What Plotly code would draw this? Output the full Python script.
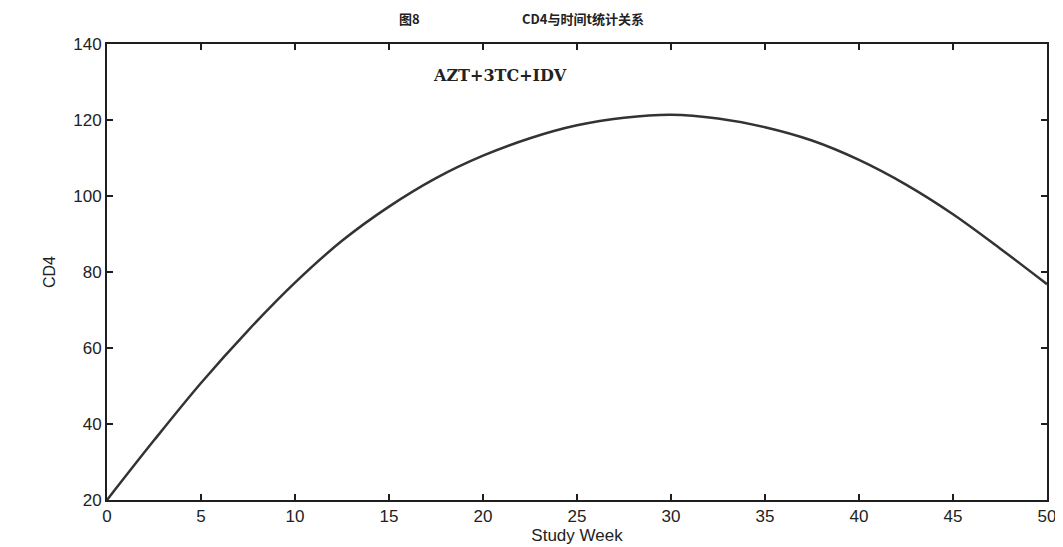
import plotly.graph_objects as go

weeks = [0, 2.5, 5, 7.5, 10, 12.5, 15, 17.5, 20, 22.5, 25, 27.5, 30, 32.5, 35, 37.5, 40, 42.5, 45, 47.5, 50]
cd4 = [20, 35.7, 50.8, 64.6, 77.2, 88.2, 97.2, 104.7, 110.6, 115.2, 118.6, 120.6, 121.4, 120.4, 118.1, 114.6, 109.5, 103.0, 95.2, 86.2, 76.8]

x_ticks = [0, 5, 10, 15, 20, 25, 30, 35, 40, 45, 50]
y_ticks = [20, 40, 60, 80, 100, 120, 140]

figure_no = "图8"
title_text = "CD4与时间t统计关系"
label_text = "AZT+3TC+IDV"

fig = go.Figure()
fig.add_trace(go.Scatter(
    x=weeks, y=cd4, mode="lines",
    line=dict(color="#333333", width=2.5, shape="spline", smoothing=1.0),
    showlegend=False, hoverinfo="skip",
))

axis_common = dict(
    showgrid=False, zeroline=False, showline=True, linecolor="#1e1e1e", linewidth=2,
    ticks="inside", ticklen=6, tickwidth=1.5, tickcolor="#1e1e1e", mirror="ticks",
    automargin=False,
    tickfont=dict(family="Liberation Sans, Arial, sans-serif", size=17, color="#222222"),
)

title_font = dict(family="Noto Sans CJK SC, sans-serif", size=13, color="#222222")

# the page body has an 8px margin, so the figure is sized to fit the 1063x547 window
fig.update_layout(
    width=1055, height=539,
    margin=dict(l=99, r=16, t=36, b=47),
    paper_bgcolor="white", plot_bgcolor="white",
    xaxis=dict(range=[0, 50], tickvals=x_ticks,
               title=dict(text="Study Week", standoff=4,
                          font=dict(family="Liberation Sans, Arial, sans-serif", size=17, color="#222222")),
               **axis_common),
    yaxis=dict(range=[20, 140], tickvals=y_ticks,
               title=dict(text="CD4", standoff=14,
                          font=dict(family="Liberation Sans, Arial, sans-serif", size=16, color="#222222")),
               **axis_common),
    annotations=[
        dict(x=0.322, y=1.057, xref="paper", yref="paper", text="<b>" + figure_no + "</b>",
             showarrow=False, xanchor="center", yanchor="middle", font=title_font),
        dict(x=0.506, y=1.057, xref="paper", yref="paper", text="<b>" + title_text + "</b>",
             showarrow=False, xanchor="center", yanchor="middle", font=title_font),
        dict(x=20.9, y=131.8, xref="x", yref="y", text="<b>" + label_text + "</b>", showarrow=False,
             font=dict(family="DejaVu Serif, serif", size=16, color="#222222")),
    ],
)

fig.write_html("out.html")
